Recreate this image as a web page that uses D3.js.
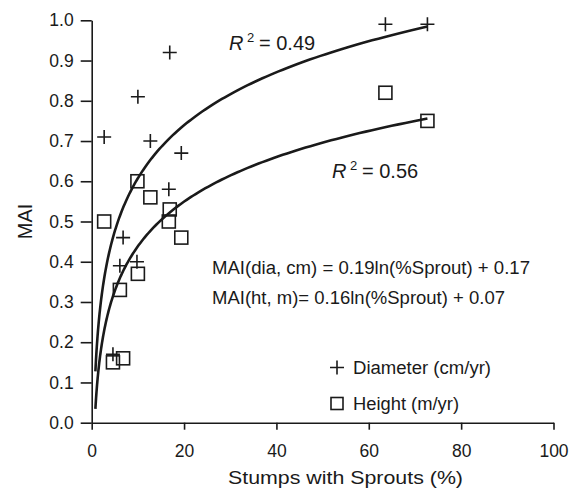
<!DOCTYPE html>
<html>
<head>
<meta charset="utf-8">
<script src="https://cdn.jsdelivr.net/npm/d3@7"></script>
<style>
  body { margin: 0; background: #fff; }
  text { font-family: "Liberation Sans", Arial, sans-serif; fill: #1a1a1a; }
</style>
</head>
<body>
<script>
// Diameter (cm/yr) points
const diaX = [2.7, 10.0, 16.9, 12.7, 19.4, 16.7, 6.8, 6.1, 9.8, 4.6, 63.6, 72.7];
const diaY = [0.71, 0.81, 0.92, 0.70, 0.67, 0.58, 0.46, 0.39, 0.40, 0.17, 0.99, 0.99];
// Height (m/yr) points
const htX = [2.7, 9.9, 12.7, 16.9, 16.7, 19.4, 10.0, 6.1, 4.6, 6.8, 63.6, 72.7];
const htY = [0.50, 0.60, 0.56, 0.53, 0.50, 0.46, 0.37, 0.33, 0.15, 0.16, 0.82, 0.75];
// log fits: a*ln(x)+b
const fitDia = [0.19, 0.17];
const fitHt = [0.16, 0.07];
const fitRange = [0.8, 72.7];
const xTicks = [0, 20, 40, 60, 80, 100];
const yTicks = [0, 0.1, 0.2, 0.3, 0.4, 0.5, 0.6, 0.7, 0.8, 0.9, 1.0];

const width = 573, height = 488;
const ink = "#1a1a1a";

const svg = d3.select("body").append("svg")
    .attr("width", width)
    .attr("height", height);

const x = d3.scaleLinear().domain([0, 100]).range([91.7, 553.5]);
const y = d3.scaleLinear().domain([0, 1]).range([422.7, 20.3]);

// axes
const xAxis = svg.append("g")
    .attr("transform", `translate(0,${y(0)})`)
    .call(d3.axisBottom(x).tickValues(xTicks).tickSize(7).tickPadding(15).tickSizeOuter(0));
const yAxis = svg.append("g")
    .attr("transform", `translate(${x(0)},0)`)
    .call(d3.axisLeft(y).tickValues(yTicks).tickFormat(d3.format(".1f")).tickSize(11).tickPadding(7).tickSizeOuter(0));

[xAxis, yAxis].forEach(a => {
  a.select(".domain").attr("stroke", ink).attr("stroke-width", 1.6);
  a.selectAll(".tick line").attr("stroke", ink).attr("stroke-width", 1.6);
  a.selectAll(".tick text").attr("font-size", 17.5).attr("fill", ink)
    .style("font-family", "'Liberation Sans', Arial, sans-serif");
});

// axis titles
svg.append("text")
    .attr("x", 228).attr("y", 484)
    .attr("font-size", 19)
    .attr("textLength", 235).attr("lengthAdjust", "spacingAndGlyphs")
    .text("Stumps with Sprouts (%)");
svg.append("text")
    .attr("transform", `translate(32,${(y(0) + y(1)) / 2}) rotate(-90)`)
    .attr("text-anchor", "middle")
    .attr("font-size", 20)
    .text("MAI");

// fitted curves
const line = d3.line().x(d => x(d[0])).y(d => y(d[1]));
[fitDia, fitHt].forEach(f => {
  const pts = d3.range(0, 201).map(i => {
    const t = fitRange[0] * Math.pow(fitRange[1] / fitRange[0], i / 200);
    return [t, f[0] * Math.log(t) + f[1]];
  });
  svg.append("path")
      .attr("d", line(pts))
      .attr("fill", "none")
      .attr("stroke", ink)
      .attr("stroke-width", 2.6);
});

// markers
const cross = (g, cx, cy, s) => {
  g.append("path")
      .attr("d", `M${cx - s},${cy}H${cx + s}M${cx},${cy - s}V${cy + s}`)
      .attr("stroke", ink).attr("stroke-width", 1.6).attr("fill", "none");
};
const square = (g, cx, cy, s) => {
  g.append("rect")
      .attr("x", cx - s).attr("y", cy - s)
      .attr("width", 2 * s).attr("height", 2 * s)
      .attr("stroke", ink).attr("stroke-width", 1.6).attr("fill", "none");
};

const pts = svg.append("g");
htX.forEach((v, i) => square(pts, x(v), y(htY[i]), 6.5));
diaX.forEach((v, i) => cross(pts, x(v), y(diaY[i]), 7));

// annotations
const r2 = (tx, ty, val) => {
  svg.append("text").attr("x", tx).attr("y", ty).attr("font-size", 20)
      .attr("font-style", "italic").text("R");
  svg.append("text").attr("x", tx + 18).attr("y", ty - 8).attr("font-size", 13).text("2");
  svg.append("text").attr("x", tx + 30).attr("y", ty).attr("font-size", 20).text("= " + val);
};
r2(229, 49.5, "0.49");
r2(332, 178, "0.56");

const note = (tx, ty, len, s) => svg.append("text")
    .attr("x", tx).attr("y", ty).attr("font-size", 18)
    .attr("textLength", len).attr("lengthAdjust", "spacingAndGlyphs")
    .text(s);

note(212, 274, 318, "MAI(dia, cm) = 0.19ln(%Sprout) + 0.17");
note(212, 304, 293, "MAI(ht, m)= 0.16ln(%Sprout) + 0.07");

// legend
cross(svg, 337, 367.5, 7);
note(353, 374, 138, "Diameter (cm/yr)");
square(svg, 337, 403.5, 6);
note(353, 410, 106, "Height (m/yr)");
</script>
</body>
</html>
